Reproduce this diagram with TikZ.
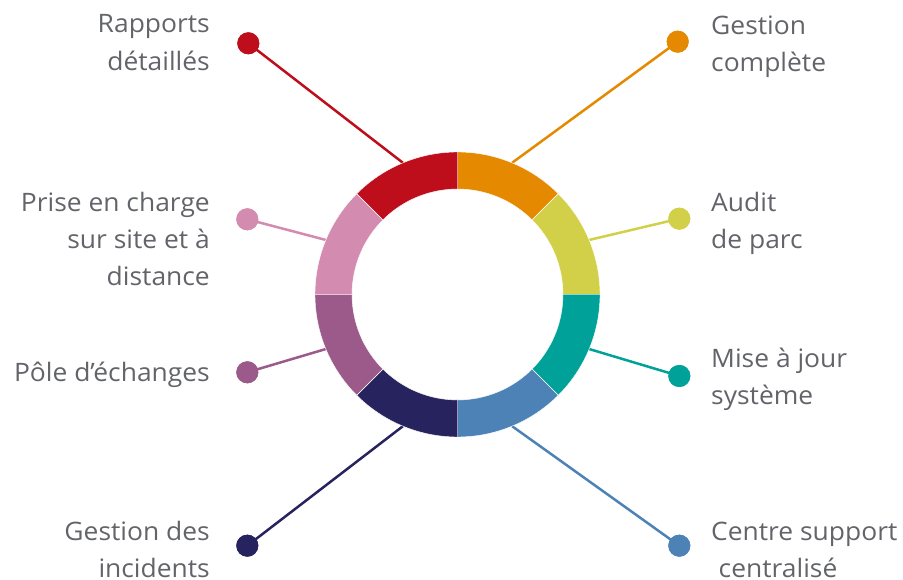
\documentclass[tikz,border=0pt]{standalone}
\usepackage{fontspec}
\setmainfont{Open Sans}[FakeStretch=1.04]
\definecolor{cred}{HTML}{BE0E1B}
\definecolor{corange}{HTML}{E58A00}
\definecolor{cyellow}{HTML}{D2D048}
\definecolor{cteal}{HTML}{00A199}
\definecolor{cblue}{HTML}{4C82B6}
\definecolor{cnavy}{HTML}{27235E}
\definecolor{cpurple}{HTML}{9B5A89}
\definecolor{cpink}{HTML}{D48BB0}
\definecolor{txt}{HTML}{636469}
\begin{document}
\begin{tikzpicture}[x=1pt,y=1pt,
  lab/.style={inner sep=0pt,text=txt,font=\fontsize{25.4}{30}\selectfont},
  labl/.style={lab,anchor=base east},
  labr/.style={lab,anchor=base west},
  dot/.style={circle,fill=#1,inner sep=0pt,minimum size=22pt},
  conn/.style={draw=#1,line width=2.5pt},
  seg/.style={fill=#1,draw=white,line width=0.4pt}]
\useasboundingbox (0,0) rectangle (903,580);
\coordinate (c) at (457.5,285.5);
\def\Ro{142.5}\def\Ri{105.5}
% anchor points on ring
\foreach \n/\a in {1/67.5,2/22.5,3/-22.5,4/-67.5,5/-112.5,6/-157.5,7/157.5,8/112.5}
  \coordinate (p\n) at ([shift={(\a:\Ro)}]c);
% dots
\node[dot=corange] (d1) at (677.7,538.3) {};
\node[dot=cyellow] (d2) at (679.3,361.3) {};
\node[dot=cteal]   (d3) at (679.3,204) {};
\node[dot=cblue]   (d4) at (679.3,34.3) {};
\node[dot=cnavy]   (d5) at (247.3,34.3) {};
\node[dot=cpurple] (d6) at (247.3,207.7) {};
\node[dot=cpink]   (d7) at (247.3,360.7) {};
\node[dot=cred]    (d8) at (248.3,536.7) {};
% connectors
\draw[conn=corange] (d1.center) -- (p1);
\draw[conn=cyellow] (d2.center) -- (p2);
\draw[conn=cteal]   (d3.center) -- (p3);
\draw[conn=cblue]   (d4.center) -- (p4);
\draw[conn=cnavy]   (d5.center) -- (p5);
\draw[conn=cpurple] (d6.center) -- (p6);
\draw[conn=cpink]   (d7.center) -- (p7);
\draw[conn=cred]    (d8.center) -- (p8);
% redraw dots on top
\foreach \n/\col in {1/corange,2/cyellow,3/cteal,4/cblue,5/cnavy,6/cpurple,7/cpink,8/cred}
  \fill[\col] (d\n) circle (11pt);
% ring segments
\foreach \s/\col in {45/corange,0/cyellow,-45/cteal,-90/cblue,-135/cnavy,-180/cpurple,135/cpink,90/cred}
  \path[seg=\col] ([shift={(\s:\Ro)}]c) arc[start angle=\s,delta angle=45,radius=\Ro]
     -- ([shift={(\s+45:\Ri)}]c) arc[start angle=\s+45,delta angle=-45,radius=\Ri] -- cycle;
% labels left
\node[labl] (l8a) at (210,547) {Rapports};
\node[labl] (l8b) at (210,509.3) {détaillés};
\node[labl] (l7a) at (210,368) {Prise en charge};
\node[labl] (l7b) at (210,331) {sur site et à};
\node[labl] (l7c) at (210,294) {distance};
\node[labl] (l6a) at (210,198.3) {Pôle d’échanges};
\node[labl] (l5a) at (210,39.3) {Gestion des};
\node[labl] (l5b) at (210,2.5) {incidents};
% labels right
\node[labr] (l1a) at (711,545) {Gestion};
\node[labr] (l1b) at (711,508.3) {complète};
\node[labr] (l2a) at (711,368) {Audit};
\node[labr] (l2b) at (711,331) {de parc};
\node[labr] (l3a) at (711,212) {Mise à jour};
\node[labr] (l3b) at (711,175) {système};
\node[labr] (l4a) at (711,39.3) {Centre support};
\node[labr] (l4b) at (718.5,2.5) {centralisé};
\end{tikzpicture}
\end{document}
